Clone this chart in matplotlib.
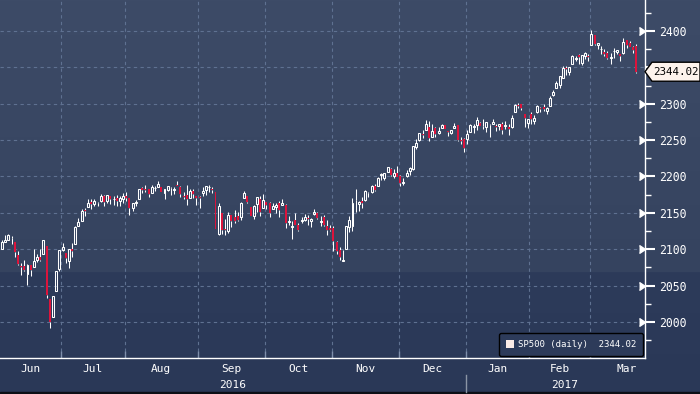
import numpy as np
import pandas as pd
import matplotlib
matplotlib.use("Agg")
import matplotlib.pyplot as plt
from matplotlib.patches import Patch, Polygon, Rectangle
from matplotlib.transforms import blended_transform_factory

# S&P 500 daily candles, 6 Jun 2016 - 21 Mar 2017 (one row per month)
opens = [
    2100.83, 2110.18, 2112.71, 2115.65, 2109.57, 2091.75, 2076.65, 2077.60, 2066.36, 2078.20, 2075.58, 2085.19, 2089.75, 2092.80, 2103.81, 2031.45, 2006.67, 2042.69, 2073.17,
    2099.34, 2095.05, 2084.43, 2100.42, 2106.97, 2131.72, 2139.50, 2153.81, 2157.88, 2165.13, 2162.04, 2163.79, 2166.10, 2172.91, 2166.47, 2173.71, 2168.97, 2169.81, 2166.05, 2168.83,
    2173.15, 2169.94, 2156.81, 2163.51, 2168.79, 2183.76, 2182.24, 2182.81, 2177.97, 2183.74, 2186.08, 2186.24, 2177.84, 2181.90, 2184.24, 2181.58, 2187.81, 2185.09, 2173.29, 2175.10, 2170.19, 2179.45, 2173.56,
    2171.33, 2177.49, 2181.61, 2185.17, 2182.76, 2178.05, 2120.86, 2150.47, 2127.86, 2125.36, 2146.48, 2143.99, 2145.94, 2144.58, 2170.94, 2173.29, 2158.54, 2146.04, 2161.85, 2168.90, 2156.51,
    2164.33, 2163.37, 2155.15, 2158.22, 2164.19, 2160.39, 2161.35, 2137.67, 2130.26, 2139.68, 2132.95, 2138.31, 2140.81, 2142.51, 2139.43, 2148.50, 2149.72, 2136.97, 2144.06, 2132.23, 2129.78,
    2128.68, 2109.43, 2098.80, 2083.79, 2100.59, 2129.92, 2131.56, 2167.49, 2162.71, 2165.64, 2168.29, 2177.53, 2178.61, 2186.85, 2186.43, 2201.56, 2198.55, 2206.27, 2210.21, 2200.76, 2204.97,
    2200.17, 2191.12, 2200.65, 2207.26, 2210.72, 2241.13, 2249.73, 2258.83, 2263.32, 2268.35, 2253.77, 2266.81, 2259.24, 2266.50, 2270.54, 2262.93, 2260.25, 2266.23, 2270.23, 2249.50, 2251.61,
    2251.57, 2261.60, 2268.18, 2271.14, 2273.59, 2269.72, 2268.60, 2271.14, 2272.74, 2269.14, 2269.14, 2271.90, 2269.96, 2267.78, 2267.88, 2288.88, 2298.63, 2299.02, 2286.01, 2274.02,
    2285.59, 2276.69, 2288.54, 2294.28, 2295.87, 2289.55, 2296.70, 2312.27, 2321.72, 2326.12, 2335.58, 2349.64, 2343.01, 2354.91, 2361.11, 2367.50, 2355.73, 2365.23, 2366.08,
    2380.13, 2394.75, 2380.92, 2375.23, 2370.74, 2369.81, 2363.49, 2372.52, 2371.56, 2368.55, 2370.34, 2387.71, 2383.71, 2378.24, 2379.32,
]
highs = [
    2113.36, 2119.22, 2120.55, 2117.64, 2109.57, 2098.12, 2081.30, 2085.65, 2079.62, 2078.20, 2100.66, 2093.66, 2099.71, 2113.32, 2103.81, 2031.45, 2036.09, 2070.77, 2098.94,
    2108.71, 2095.05, 2100.72, 2109.08, 2131.71, 2143.16, 2155.40, 2156.45, 2169.05, 2169.05, 2168.99, 2164.63, 2175.63, 2174.56, 2175.11, 2173.71, 2173.54, 2174.98, 2172.85, 2177.09,
    2178.29, 2170.20, 2163.79, 2168.19, 2182.87, 2185.44, 2187.66, 2183.41, 2188.45, 2186.28, 2193.81, 2186.24, 2183.08, 2187.03, 2185.00, 2185.15, 2193.42, 2186.66, 2179.00, 2187.94, 2183.48, 2182.27, 2173.79,
    2173.56, 2184.87, 2186.57, 2187.87, 2184.94, 2178.05, 2163.30, 2150.47, 2141.33, 2151.31, 2146.48, 2153.61, 2150.80, 2165.11, 2179.99, 2173.75, 2158.54, 2161.13, 2172.40, 2172.67, 2175.30,
    2164.41, 2165.46, 2163.95, 2162.93, 2165.86, 2169.60, 2161.56, 2145.36, 2138.19, 2149.19, 2135.61, 2144.38, 2148.44, 2147.18, 2142.63, 2154.79, 2151.44, 2145.73, 2147.13, 2140.72, 2133.25,
    2131.45, 2111.76, 2102.56, 2099.07, 2132.00, 2146.19, 2170.10, 2182.30, 2165.92, 2171.36, 2180.84, 2179.22, 2188.06, 2189.89, 2198.70, 2204.80, 2204.72, 2213.35, 2211.14, 2210.46, 2214.10,
    2202.60, 2197.95, 2209.42, 2212.78, 2241.63, 2251.69, 2259.80, 2264.03, 2277.53, 2276.20, 2272.12, 2268.05, 2267.47, 2272.56, 2271.23, 2263.18, 2263.79, 2273.82, 2271.31, 2254.51, 2253.58,
    2263.88, 2272.82, 2271.50, 2282.10, 2275.49, 2279.27, 2275.32, 2271.78, 2278.68, 2272.08, 2272.01, 2274.33, 2276.96, 2271.78, 2284.63, 2299.55, 2300.99, 2299.02, 2286.01, 2279.09,
    2289.14, 2283.97, 2298.31, 2296.18, 2299.40, 2295.91, 2311.08, 2319.23, 2331.58, 2337.58, 2351.30, 2351.31, 2351.16, 2366.71, 2365.13, 2368.26, 2367.34, 2371.54, 2367.79,
    2400.98, 2394.75, 2383.89, 2378.80, 2375.12, 2373.09, 2369.08, 2376.86, 2374.42, 2368.55, 2390.01, 2388.10, 2385.71, 2379.55, 2381.93,
]
lows = [
    2100.83, 2110.18, 2112.71, 2107.73, 2089.96, 2078.46, 2064.10, 2069.80, 2050.37, 2062.84, 2075.58, 2083.02, 2084.36, 2092.80, 2032.57, 1991.68, 2006.67, 2042.69, 2070.00,
    2097.90, 2080.86, 2074.02, 2089.39, 2106.97, 2131.72, 2139.50, 2146.21, 2157.88, 2155.79, 2159.07, 2159.01, 2164.89, 2159.75, 2163.24, 2161.95, 2160.18, 2159.07, 2159.74, 2163.49,
    2166.21, 2147.58, 2152.56, 2159.07, 2168.79, 2177.85, 2178.61, 2172.00, 2177.97, 2179.42, 2186.08, 2178.14, 2168.50, 2180.46, 2175.13, 2175.96, 2186.80, 2171.25, 2169.74, 2160.39, 2170.19, 2170.41, 2161.35,
    2157.09, 2173.59, 2175.10, 2179.07, 2177.49, 2127.81, 2119.12, 2120.27, 2119.90, 2122.36, 2131.20, 2135.91, 2139.17, 2139.57, 2170.94, 2163.97, 2145.04, 2141.55, 2151.79, 2145.20, 2156.51,
    2154.77, 2144.01, 2155.15, 2150.28, 2144.85, 2160.39, 2128.84, 2132.77, 2114.72, 2132.98, 2124.43, 2135.49, 2138.15, 2133.44, 2130.09, 2146.91, 2141.93, 2131.59, 2132.52, 2119.36, 2125.53,
    2097.85, 2094.00, 2085.23, 2083.79, 2100.59, 2123.56, 2125.35, 2151.17, 2152.49, 2156.08, 2166.38, 2172.20, 2176.65, 2180.38, 2186.43, 2194.51, 2194.51, 2206.27, 2200.36, 2198.15, 2198.81,
    2187.44, 2188.37, 2199.97, 2202.21, 2208.93, 2237.57, 2249.23, 2252.37, 2263.32, 2248.44, 2253.77, 2254.24, 2258.21, 2266.14, 2265.15, 2256.08, 2258.84, 2266.15, 2249.11, 2244.56, 2233.62,
    2245.13, 2261.60, 2260.45, 2264.06, 2268.90, 2265.27, 2260.83, 2254.25, 2271.51, 2262.81, 2263.35, 2258.41, 2265.01, 2257.02, 2266.68, 2288.88, 2294.08, 2291.62, 2268.04, 2267.21,
    2272.44, 2271.65, 2287.88, 2288.57, 2290.16, 2285.38, 2296.61, 2311.10, 2321.42, 2322.17, 2334.81, 2338.87, 2339.58, 2354.91, 2358.34, 2355.09, 2352.87, 2361.87, 2358.96,
    2380.13, 2380.17, 2375.39, 2367.98, 2365.51, 2361.01, 2354.54, 2363.04, 2368.52, 2358.18, 2368.94, 2377.18, 2377.64, 2369.66, 2341.90,
]
closes = [
    2109.41, 2112.13, 2119.12, 2115.48, 2096.07, 2079.06, 2075.32, 2071.50, 2077.99, 2071.22, 2083.25, 2088.90, 2085.45, 2113.32, 2037.41, 2000.54, 2036.09, 2070.77, 2098.86,
    2102.95, 2088.55, 2099.73, 2097.90, 2129.90, 2137.16, 2152.14, 2152.43, 2163.75, 2161.74, 2166.89, 2163.78, 2173.02, 2165.17, 2175.03, 2168.48, 2169.18, 2166.58, 2170.06, 2173.60,
    2170.84, 2157.03, 2163.79, 2164.25, 2182.87, 2180.89, 2181.74, 2175.49, 2185.79, 2184.05, 2190.15, 2178.15, 2182.22, 2187.02, 2183.87, 2182.64, 2186.90, 2175.44, 2172.47, 2169.04, 2180.38, 2176.12, 2170.95,
    2170.86, 2179.98, 2186.48, 2186.16, 2181.30, 2127.81, 2159.04, 2127.02, 2125.77, 2147.26, 2139.16, 2139.12, 2139.76, 2163.12, 2177.18, 2164.69, 2146.10, 2159.93, 2171.37, 2151.13, 2168.27,
    2161.20, 2150.49, 2159.73, 2160.77, 2153.74, 2163.66, 2136.73, 2139.18, 2132.55, 2132.98, 2126.50, 2139.60, 2144.29, 2141.34, 2141.16, 2151.33, 2143.16, 2139.43, 2133.04, 2126.41, 2126.15,
    2111.72, 2097.94, 2088.66, 2085.18, 2131.52, 2139.56, 2163.26, 2167.48, 2164.45, 2164.20, 2180.39, 2176.94, 2187.12, 2181.90, 2198.18, 2202.94, 2204.72, 2213.35, 2201.72, 2204.66, 2198.81,
    2191.08, 2191.95, 2204.71, 2212.23, 2241.35, 2246.19, 2259.53, 2256.96, 2271.72, 2253.28, 2262.03, 2258.07, 2262.53, 2270.76, 2265.18, 2260.96, 2263.79, 2268.88, 2249.92, 2249.26, 2238.83,
    2257.83, 2270.75, 2269.00, 2276.98, 2268.90, 2268.90, 2275.32, 2270.44, 2274.64, 2267.89, 2271.89, 2263.69, 2271.31, 2265.20, 2280.07, 2298.37, 2296.68, 2294.69, 2280.90, 2278.87,
    2279.55, 2280.85, 2297.42, 2292.56, 2293.08, 2294.67, 2307.87, 2316.10, 2328.25, 2337.58, 2349.25, 2347.22, 2351.16, 2365.38, 2362.82, 2363.81, 2367.34, 2369.75, 2363.64,
    2395.96, 2381.92, 2383.12, 2375.31, 2368.39, 2362.98, 2364.87, 2372.60, 2373.47, 2365.45, 2385.26, 2381.38, 2378.25, 2373.47, 2344.02,
]

# trading calendar (x axis is in trading days)
holidays = ["2016-07-04", "2016-09-05", "2016-11-24", "2016-12-26",
            "2017-01-02", "2017-01-16", "2017-02-20"]
days = pd.bdate_range("2016-06-06", "2017-03-31")
days = days[~days.isin(pd.to_datetime(holidays))]

y_ticks = np.arange(2000, 2401, 50)

BG_TOP, BG_MID, BG_LOW, BG_BOT = "#3d4b67", "#35435f", "#2d3b5a", "#2a3857"
RED = "#dc143c"
GRID = "#5f7191"
MONO = "DejaVu Sans Mono"

o, h, l, c = (np.array(a) for a in (opens, highs, lows, closes))
n = len(c)
x = np.arange(n)
last = c[-1]

fig = plt.figure(figsize=(7, 3.94), dpi=100)

# background gradient
bg = fig.add_axes([0, 0, 1, 1], zorder=-5)
bg.set_axis_off()
rows = 394
cols = []
for yy in range(rows):
    if yy < 272:
        f = yy / 272
        a, b = matplotlib.colors.to_rgb(BG_TOP), matplotlib.colors.to_rgb(BG_MID)
    else:
        f = (yy - 272) / (rows - 272)
        a, b = matplotlib.colors.to_rgb(BG_LOW), matplotlib.colors.to_rgb(BG_BOT)
    cols.append([a[k] + (b[k] - a[k]) * f for k in range(3)])
img = np.array(cols).reshape(rows, 1, 3)
bg.imshow(img, aspect="auto", extent=[0, 1, 0, 1], interpolation="nearest")
bg.add_patch(Rectangle((0, 0), 1, 2 / 394, color="#0c0f16"))
bg.set_xlim(0, 1)
bg.set_ylim(0, 1)

ax = fig.add_axes([0, 36 / 394, 645 / 700, 358 / 394])
ax.patch.set_alpha(0)

# candles
up = c >= o
lo_body = np.minimum(o, c)
hi_body = np.maximum(o, c)
height = np.maximum(hi_body - lo_body, 0.4)
ax.vlines(x, l, lo_body, color="white", lw=0.75, zorder=3)
ax.vlines(x, hi_body, h, color="white", lw=0.75, zorder=3)
ax.bar(x[up], height[up], bottom=lo_body[up], width=0.62,
       facecolor="none", edgecolor="white", lw=0.75, zorder=4)
ax.bar(x[~up], height[~up], bottom=lo_body[~up], width=0.62,
       color=RED, lw=0, zorder=4)

ax.set_xlim(-0.63, 201.8)
ax.set_ylim(1950.5, 2442.6)
ppx = 358 / (ax.get_ylim()[1] - ax.get_ylim()[0])
hh = 9.5 / ppx

# month boundaries / labels
month_id = days.year * 12 + days.month
starts = np.flatnonzero(np.r_[True, month_id[1:] != month_id[:-1]])
ends = np.r_[starts[1:], len(days)]
bounds = starts[1:] - 0.5
centers = [(max(s - 0.5, ax.get_xlim()[0]) + (e - 0.5)) / 2 for s, e in zip(starts, ends)]
names = [days[s].strftime("%b") for s in starts]

ax.set_xticks(bounds)
ax.set_xticklabels([])
ax.set_xticks(centers, minor=True)
ax.set_xticklabels(names, minor=True)
ax.tick_params(axis="x", which="major", direction="in", length=5, width=1, color="#7f8fab")
ax.tick_params(axis="x", which="minor", length=0, pad=4, labelsize=8, labelcolor="white")

# right price axis; the label hidden under the last-price tag is dropped
shown = np.abs(y_ticks - last) > hh * 1.3
ax.yaxis.tick_right()
ax.set_yticks(y_ticks)
ax.set_yticklabels([str(v) if s else "" for v, s in zip(y_ticks, shown)])
ax.set_yticks(np.arange(1975, 2440, 25), minor=True)
ax.tick_params(axis="y", which="major", direction="out", length=7, width=1.5,
               color="white", labelcolor="white", labelsize=8.3, pad=3)
ax.tick_params(axis="y", which="minor", direction="out", length=4, width=1, color="white")
ax.plot(np.ones(shown.sum()), y_ticks[shown], ls="none", marker=5, ms=6, color="white",
        transform=blended_transform_factory(ax.transAxes, ax.transData), clip_on=False)

for lab in ax.get_xticklabels(minor=True) + ax.get_yticklabels():
    lab.set_family(MONO)

for yv in y_ticks:
    ax.axhline(yv, color=GRID, lw=0.8, ls=(0, (3, 3)), zorder=1)
for xv in bounds:
    ax.axvline(xv, color=GRID, lw=0.8, ls=(0, (3, 3)), zorder=1)

for s in ["top", "left"]:
    ax.spines[s].set_visible(False)
for s in ["bottom", "right"]:
    ax.spines[s].set_color("white")
    ax.spines[s].set_linewidth(1)

# year labels and separator
xt = blended_transform_factory(ax.transData, ax.transAxes)
jan = np.flatnonzero(days.year == 2017)[0] - 0.5
ax.plot([jan, jan], [-0.047, -0.095], color="#8b95a5", lw=1, transform=xt, clip_on=False)
x0, x1 = ax.get_xlim()
ax.text((x0 + jan) / 2, -0.075, "2016", transform=xt, ha="center", va="center",
        color="white", fontsize=8, family=MONO)
ax.text((jan + ends[-1] - 0.5) / 2, -0.075, "2017", transform=xt, ha="center", va="center",
        color="white", fontsize=8, family=MONO)

# last price tag
tt = blended_transform_factory(fig.transFigure, ax.transData)
tag = Polygon([(645 / 700, last), (652 / 700, last + hh), (1.0, last + hh),
               (1.0, last - hh), (652 / 700, last - hh)], closed=True,
              facecolor="#fdf3ec", edgecolor="black", lw=1, transform=tt, clip_on=False, zorder=6)
ax.add_patch(tag)
ax.text(676 / 700, last, f"{last:.2f}", transform=tt, ha="center", va="center",
        color="black", fontsize=7.8, family=MONO, zorder=7)

# legend
leg = ax.legend(handles=[Patch(facecolor="#fbebe6", edgecolor="none")],
                labels=[f"SP500 (daily)  {last:.2f}"], loc="lower right",
                prop={"family": MONO, "size": 6.5},
                frameon=True, fancybox=True, facecolor=BG_LOW, edgecolor="black",
                framealpha=1, labelcolor="white", handlelength=0.9, handleheight=0.9,
                handletextpad=0.4, borderaxespad=0.25, borderpad=0.75)
leg.get_frame().set_linewidth(1)

fig.savefig("out.png", dpi=100, facecolor=BG_LOW)
